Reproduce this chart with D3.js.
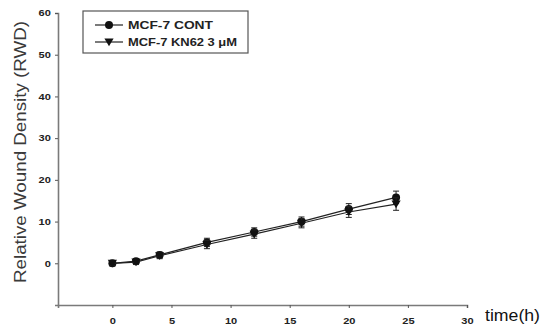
<!DOCTYPE html>
<html>
<head>
<meta charset="utf-8">
<script src="https://cdn.jsdelivr.net/npm/d3@7"></script>
<style>
  html, body { margin: 0; padding: 0; background: #fff; }
  svg { display: block; font-family: "Liberation Sans", Arial, sans-serif; }
</style>
</head>
<body>
<svg id="chart" width="545" height="336"></svg>
<script>
// Wound-healing time course
const times = [0, 2, 4, 8, 12, 16, 20, 24];
const contValues = [0, 0.5, 2.0, 5.0, 7.5, 10.0, 13.0, 15.8];
const contErrors = [0.6, 0.6, 0.7, 1.0, 1.0, 1.1, 1.3, 1.5];
const kn62Values = [0, 0.3, 1.8, 4.5, 7.0, 9.6, 12.3, 14.2];
const kn62Errors = [0.6, 0.6, 0.7, 1.0, 1.0, 1.1, 1.3, 1.5];
const seriesNames = ["MCF-7 CONT", "MCF-7 KN62 3 \u03bcM"];
const xTicks = [0, 5, 10, 15, 20, 25, 30];
const yTicks = [0, 10, 20, 30, 40, 50, 60];

const svg = d3.select("#chart");
const axisColor = "#7a7a7a";

const x = d3.scaleLinear().domain([-4.6, 30]).range([58, 467]);
const y = d3.scaleLinear().domain([-10, 60]).range([305, 13]);

// axes
const xAxis = svg.append("g")
  .attr("transform", `translate(0,${y(-10)})`)
  .call(d3.axisBottom(x).tickValues(xTicks).tickSize(3).tickPadding(10).tickFormat(d3.format("d")));
const yAxis = svg.append("g")
  .attr("transform", `translate(${x(-4.6)},0)`)
  .call(d3.axisLeft(y).tickValues(yTicks).tickSize(3).tickPadding(5).tickFormat(d3.format("d")));

[xAxis, yAxis].forEach(g => {
  g.select(".domain").attr("stroke", axisColor).attr("stroke-width", 1.6);
  g.selectAll(".tick line").attr("stroke", "#555").attr("stroke-width", 1);
  g.selectAll(".tick text")
    .attr("fill", "#222")
    .style("font-size", "8.5px")
    .style("font-weight", "bold")
    .style("font-family", "'Liberation Sans', Arial, sans-serif");
});
// widen the tick digits a little
xAxis.selectAll(".tick text").attr("transform", "scale(1.3,1)");
yAxis.selectAll(".tick text").attr("x", -5.5).attr("transform", "scale(1.3,1)");

// axis titles
svg.append("text")
  .attr("x", 485).attr("y", 321)
  .attr("fill", "#111")
  .attr("textLength", 55)
  .attr("lengthAdjust", "spacingAndGlyphs")
  .style("font-size", "16px")
  .text("time(h)");

svg.append("text")
  .attr("transform", `translate(26,152) rotate(-90)`)
  .attr("text-anchor", "middle")
  .attr("fill", "#3a3a3a")
  .attr("textLength", 262)
  .attr("lengthAdjust", "spacingAndGlyphs")
  .style("font-size", "16px")
  .text("Relative Wound Density (RWD)");

// series
const series = [
  { name: seriesNames[0], values: contValues, errors: contErrors, symbol: "circle", width: 85 },
  { name: seriesNames[1], values: kn62Values, errors: kn62Errors, symbol: "triangle", width: 109 }
];

const line = d3.line().x(d => x(d[0])).y(d => y(d[1]));

function drawMarker(g, cx, cy, kind) {
  if (kind === "circle") {
    g.append("circle").attr("cx", cx).attr("cy", cy).attr("r", 4).attr("fill", "#111");
  } else {
    const s = 4.6;
    g.append("path")
      .attr("d", `M${cx - s},${cy - s * 0.75} L${cx + s},${cy - s * 0.75} L${cx},${cy + s * 0.9} Z`)
      .attr("fill", "#111");
  }
}

const plot = svg.append("g");
series.forEach(s => {
  const pts = times.map((t, i) => [t, s.values[i]]);
  plot.append("path")
    .attr("d", line(pts))
    .attr("fill", "none")
    .attr("stroke", "#222")
    .attr("stroke-width", 1.2);
  times.forEach((t, i) => {
    const cx = x(t);
    const top = y(s.values[i] + s.errors[i]);
    const bot = y(s.values[i] - s.errors[i]);
    plot.append("line").attr("x1", cx).attr("x2", cx).attr("y1", top).attr("y2", bot)
      .attr("stroke", "#222").attr("stroke-width", 1);
    [top, bot].forEach(yy => plot.append("line")
      .attr("x1", cx - 3).attr("x2", cx + 3).attr("y1", yy).attr("y2", yy)
      .attr("stroke", "#222").attr("stroke-width", 1));
    drawMarker(plot, cx, y(s.values[i]), s.symbol);
  });
});

// legend
const legend = svg.append("g");
legend.append("rect")
  .attr("x", 83).attr("y", 11).attr("width", 165).attr("height", 42)
  .attr("fill", "#fff").attr("stroke", "#555").attr("stroke-width", 1.2);
series.forEach((s, i) => {
  const ly = 25 + i * 17;
  legend.append("line").attr("x1", 95).attr("x2", 123).attr("y1", ly).attr("y2", ly)
    .attr("stroke", "#222").attr("stroke-width", 1.2);
  drawMarker(legend, 109, ly, s.symbol);
  legend.append("text")
    .attr("x", 128).attr("y", ly + 3.8)
    .attr("fill", "#222")
    .attr("textLength", s.width)
    .attr("lengthAdjust", "spacingAndGlyphs")
    .style("font-size", "10.5px")
    .style("font-weight", "bold")
    .text(s.name);
});
</script>
</body>
</html>
